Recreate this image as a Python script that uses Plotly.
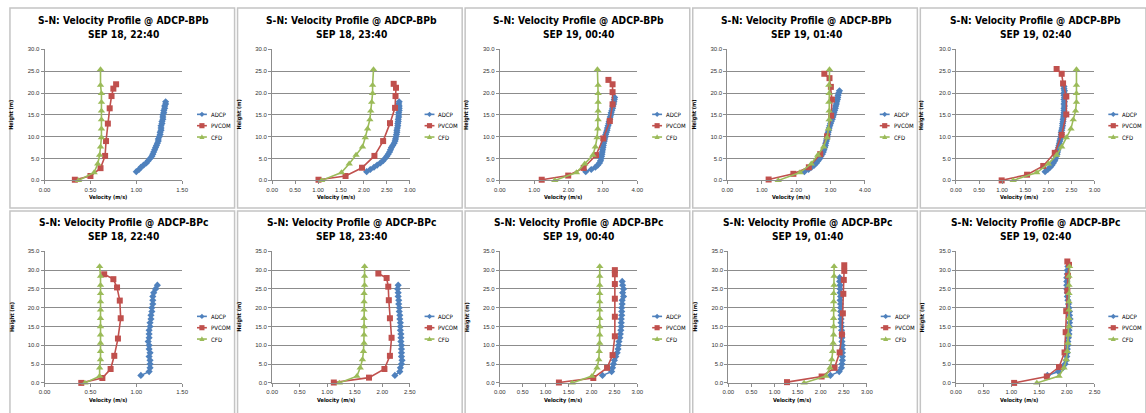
import plotly.graph_objects as go

W, H = 1146, 413

# ---------------------------------------------------------------- data
STATION_TITLES = ["S-N: Velocity Profile @ ADCP-BPb", "S-N: Velocity Profile @ ADCP-BPc"]
TIME_LABELS = ["SEP 18, 22:40", "SEP 18, 23:40", "SEP 19, 00:40", "SEP 19, 01:40", "SEP 19, 02:40"]
SERIES_NAMES = ["ADCP", "PVCOM", "CFD"]

# ADCP bin heights (m)
ADCP_Z_BPB = [2.0, 2.5, 3.0, 3.5, 4.0, 4.5, 5.0, 5.5, 6.0, 6.5, 7.0, 7.5, 8.0, 8.5,
              9.0, 9.5, 10.0, 10.5, 11.0, 11.5, 12.0, 12.5, 13.0, 13.5, 14.0, 14.5,
              15.0, 15.5, 16.0, 16.5, 17.0, 17.5, 18.0, 18.5, 19.0, 19.5, 20.0, 20.5,
              21.0, 21.5]
ADCP_Z_BPC = [2.0, 3.0, 4.0, 5.0, 6.0, 7.0, 8.0, 9.0, 10.0, 11.0, 12.0, 13.0, 14.0,
              15.0, 16.0, 17.0, 18.0, 19.0, 20.0, 21.0, 22.0, 23.0, 24.0, 25.0, 26.0,
              27.0, 28.0, 29.0, 30.0, 31.0]

# CFD layer heights (m)
CFD_Z_BPB = [0.0, 1.8, 3.8, 5.8, 7.7, 9.8, 11.8, 13.9, 15.9, 17.9, 19.9, 21.8, 25.4]
CFD_Z_BPC = [0.0, 1.8, 4.0, 6.2, 8.4, 10.6, 12.8, 15.0, 17.2, 19.4, 21.6, 23.8, 26.0, 28.4, 31.0]

# ---- ADCP-BPb
ADCP_V_BPB_1 = [1.00, 1.03, 1.05, 1.08, 1.11, 1.13, 1.15, 1.17, 1.18, 1.19, 1.20, 1.21, 1.22,
                1.23, 1.24, 1.24, 1.25, 1.26, 1.26, 1.27, 1.27, 1.27, 1.28, 1.28, 1.29, 1.29,
                1.29, 1.30, 1.30, 1.31, 1.31, 1.32, 1.32]
ADCP_V_BPB_2 = [2.06, 2.14, 2.22, 2.29, 2.36, 2.42, 2.46, 2.50, 2.53, 2.56, 2.58, 2.60, 2.63,
                2.66, 2.68, 2.69, 2.70, 2.71, 2.72, 2.72, 2.73, 2.74, 2.74, 2.75, 2.75, 2.76,
                2.76, 2.76, 2.77, 2.77, 2.77, 2.76, 2.77]
ADCP_V_BPB_3 = [2.50, 2.66, 2.78, 2.85, 2.90, 2.93, 2.95, 2.96, 2.97, 2.98, 2.99, 3.00, 3.01,
                3.02, 3.04, 3.05, 3.07, 3.08, 3.10, 3.12, 3.13, 3.15, 3.17, 3.18, 3.20, 3.21,
                3.23, 3.24, 3.26, 3.28, 3.29, 3.31, 3.32, 3.33, 3.34]
ADCP_V_BPB_4 = [2.24, 2.36, 2.45, 2.53, 2.59, 2.64, 2.69, 2.72, 2.76, 2.79, 2.81, 2.83, 2.85,
                2.86, 2.88, 2.89, 2.91, 2.92, 2.93, 2.95, 2.96, 2.98, 3.00, 3.02, 3.05, 3.07,
                3.09, 3.10, 3.12, 3.14, 3.15, 3.17, 3.18, 3.20, 3.21, 3.22, 3.24, 3.26]
ADCP_V_BPB_5 = [1.93, 1.99, 2.04, 2.08, 2.11, 2.14, 2.16, 2.17, 2.19, 2.20, 2.21, 2.22, 2.23,
                2.24, 2.25, 2.26, 2.27, 2.28, 2.28, 2.29, 2.30, 2.31, 2.31, 2.32, 2.32, 2.33,
                2.33, 2.34, 2.34, 2.34, 2.35, 2.34, 2.35, 2.34, 2.35, 2.34, 2.34, 2.35, 2.34,
                2.34]

PVCOM_Z_BPB_1 = [0.15, 1.0, 2.8, 5.6, 9.0, 13.0, 16.5, 19.3, 21.0, 22.0]
PVCOM_V_BPB_1 = [0.33, 0.50, 0.61, 0.66, 0.67, 0.69, 0.71, 0.73, 0.75, 0.78]
PVCOM_Z_BPB_2 = [0.15, 1.0, 2.9, 5.6, 9.0, 13.1, 16.6, 19.3, 21.2, 22.1]
PVCOM_V_BPB_2 = [1.01, 1.60, 1.96, 2.23, 2.42, 2.57, 2.68, 2.69, 2.70, 2.65]
PVCOM_Z_BPB_3 = [0.15, 1.1, 2.85, 5.8, 9.6, 13.6, 17.4, 20.2, 22.0, 23.0]
PVCOM_V_BPB_3 = [1.22, 1.99, 2.44, 2.80, 3.01, 3.20, 3.28, 3.28, 3.28, 3.16]
PVCOM_Z_BPB_4 = [0.2, 1.5, 3.0, 6.0, 10.1, 14.8, 18.5, 21.4, 23.4, 24.4]
PVCOM_V_BPB_4 = [1.20, 1.92, 2.37, 2.70, 2.90, 3.02, 3.04, 3.01, 2.97, 2.82]
PVCOM_Z_BPB_5 = [0.0, 1.3, 3.3, 6.3, 10.4, 15.1, 19.2, 22.2, 24.4, 25.5]
PVCOM_V_BPB_5 = [0.99, 1.54, 1.89, 2.14, 2.29, 2.39, 2.39, 2.32, 2.29, 2.18]

CFD_V_BPB_1 = [0.37, 0.54, 0.58, 0.60, 0.61, 0.62, 0.62, 0.62, 0.62, 0.62, 0.62, 0.61, 0.61]
CFD_V_BPB_2 = [1.08, 1.51, 1.68, 1.83, 1.97, 2.03, 2.08, 2.13, 2.15, 2.17, 2.19, 2.19, 2.21]
CFD_V_BPB_3 = [1.60, 2.23, 2.47, 2.71, 2.78, 2.83, 2.85, 2.86, 2.86, 2.86, 2.86, 2.86, 2.84]
CFD_V_BPB_4 = [1.48, 2.11, 2.44, 2.63, 2.80, 2.90, 2.94, 2.96, 2.96, 2.95, 2.96, 2.95, 2.97]
CFD_V_BPB_5 = [1.24, 1.75, 2.00, 2.18, 2.29, 2.39, 2.49, 2.54, 2.59, 2.61, 2.61, 2.61, 2.61]

# ---- ADCP-BPc
ADCP_V_BPC_1 = [1.05, 1.14, 1.15, 1.15, 1.15, 1.14, 1.15, 1.14, 1.14, 1.13, 1.14, 1.14, 1.14,
                1.15, 1.15, 1.16, 1.16, 1.17, 1.17, 1.18, 1.18, 1.18, 1.19, 1.21, 1.23]
ADCP_V_BPC_2 = [2.23, 2.32, 2.33, 2.35, 2.36, 2.35, 2.35, 2.35, 2.35, 2.34, 2.34, 2.34, 2.33,
                2.33, 2.33, 2.32, 2.32, 2.31, 2.31, 2.30, 2.30, 2.29, 2.29, 2.28, 2.29]
ADCP_V_BPC_3 = [2.24, 2.44, 2.46, 2.48, 2.50, 2.53, 2.56, 2.58, 2.59, 2.60, 2.62, 2.63, 2.64,
                2.65, 2.65, 2.65, 2.66, 2.66, 2.66, 2.67, 2.67, 2.70, 2.68, 2.70, 2.68, 2.67]
ADCP_V_BPC_4 = [2.21, 2.40, 2.45, 2.46, 2.47, 2.47, 2.47, 2.47, 2.47, 2.46, 2.46, 2.46, 2.45,
                2.45, 2.44, 2.44, 2.44, 2.43, 2.43, 2.43, 2.42, 2.43, 2.42, 2.42, 2.42, 2.41,
                2.41]
ADCP_V_BPC_5 = [1.65, 1.85, 1.93, 1.97, 1.99, 2.00, 2.01, 2.01, 2.02, 2.02, 2.03, 2.04, 2.04,
                2.05, 2.05, 2.06, 2.05, 2.05, 2.04, 2.03, 2.02, 2.01, 2.01, 2.00, 2.00, 2.00,
                2.00, 2.01, 2.01, 2.02]

PVCOM_Z_BPC_1 = [0.0, 1.3, 3.7, 7.2, 11.8, 17.2, 21.9, 25.4, 27.6, 28.9]
PVCOM_V_BPC_1 = [0.40, 0.63, 0.72, 0.76, 0.80, 0.83, 0.82, 0.79, 0.75, 0.65]
PVCOM_Z_BPC_2 = [0.1, 1.4, 3.7, 7.2, 12.0, 17.2, 22.0, 25.6, 27.9, 29.1]
PVCOM_V_BPC_2 = [1.12, 1.76, 2.04, 2.14, 2.17, 2.14, 2.12, 2.11, 2.08, 1.93]
PVCOM_Z_BPC_3 = [0.1, 1.3, 4.0, 7.4, 12.4, 17.6, 22.4, 26.3, 28.9, 30.0]
PVCOM_V_BPC_3 = [1.29, 2.04, 2.34, 2.46, 2.51, 2.51, 2.51, 2.51, 2.51, 2.51]
PVCOM_Z_BPC_4 = [0.2, 1.7, 4.0, 8.1, 12.9, 18.5, 23.7, 27.4, 29.8, 31.3]
PVCOM_V_BPC_4 = [1.27, 2.02, 2.30, 2.41, 2.46, 2.48, 2.49, 2.50, 2.51, 2.51]
PVCOM_Z_BPC_5 = [0.0, 1.7, 4.2, 8.1, 13.5, 19.1, 24.5, 28.5, 31.4, 32.3]
PVCOM_V_BPC_5 = [1.05, 1.64, 1.86, 1.96, 1.98, 1.99, 2.01, 2.02, 2.04, 2.01]

CFD_V_BPC_1 = [0.44, 0.60, 0.60, 0.61, 0.61, 0.61, 0.61, 0.61, 0.61, 0.61, 0.61, 0.61, 0.61, 0.61, 0.60]
CFD_V_BPC_2 = [1.22, 1.54, 1.60, 1.64, 1.66, 1.67, 1.67, 1.67, 1.67, 1.67, 1.67, 1.67, 1.68, 1.68, 1.68]
CFD_V_BPC_3 = [1.58, 2.01, 2.12, 2.16, 2.17, 2.18, 2.18, 2.18, 2.18, 2.18, 2.18, 2.18, 2.18, 2.18, 2.18]
CFD_V_BPC_4 = [1.64, 2.11, 2.20, 2.24, 2.26, 2.27, 2.28, 2.28, 2.28, 2.28, 2.28, 2.28, 2.29, 2.29, 2.29]
CFD_V_BPC_5 = [1.46, 1.86, 1.95, 1.99, 2.01, 2.02, 2.03, 2.04, 2.04, 2.04, 2.04, 2.04, 2.04, 2.04, 2.05]

# axis extents (max velocity, tick step) per panel, and height maximum per row
X_MAX = [1.5, 3.0, 4.0, 4.0, 3.0, 1.5, 2.5, 3.0, 3.0, 2.5]
X_STEP = [0.5, 0.5, 1.0, 1.0, 0.5, 0.5, 0.5, 0.5, 0.5, 0.5]
Y_MAX = [30, 35]

# ---------------------------------------------------------------- styling
COLORS = ["#4F81BD", "#C0504D", "#9BBB59"]
SYMBOLS = ["diamond", "square", "triangle-up"]
SIZES = [5.5, 6, 6.5]
GRID = "#8C8C8C"
FRAME = "#C4C4C4"
NARROW = "Liberation Sans Narrow, DejaVu Sans Condensed, Liberation Sans, sans-serif"
REG = "Liberation Sans, Arial, sans-serif"

# plot-area pixel boxes
PLOT_L = [39, 269, 499, 729, 960, 39, 269, 499, 730, 960]
PLOT_R = [178, 408, 638, 868, 1100, 178, 408, 638, 870, 1100]
ROW_T = [47, 252]
ROW_B = [180, 385.5]
FRAMES_X = [(4, 231), (234, 461), (464, 691), (694, 921), (924, 1152)]
FRAMES_Y = [(5, 208), (211, 420)]


def px(x):
    return x / W


def py(y):
    return 1 - y / H


panels = []
bpb = [(ADCP_V_BPB_1, PVCOM_Z_BPB_1, PVCOM_V_BPB_1, CFD_V_BPB_1),
       (ADCP_V_BPB_2, PVCOM_Z_BPB_2, PVCOM_V_BPB_2, CFD_V_BPB_2),
       (ADCP_V_BPB_3, PVCOM_Z_BPB_3, PVCOM_V_BPB_3, CFD_V_BPB_3),
       (ADCP_V_BPB_4, PVCOM_Z_BPB_4, PVCOM_V_BPB_4, CFD_V_BPB_4),
       (ADCP_V_BPB_5, PVCOM_Z_BPB_5, PVCOM_V_BPB_5, CFD_V_BPB_5)]
bpc = [(ADCP_V_BPC_1, PVCOM_Z_BPC_1, PVCOM_V_BPC_1, CFD_V_BPC_1),
       (ADCP_V_BPC_2, PVCOM_Z_BPC_2, PVCOM_V_BPC_2, CFD_V_BPC_2),
       (ADCP_V_BPC_3, PVCOM_Z_BPC_3, PVCOM_V_BPC_3, CFD_V_BPC_3),
       (ADCP_V_BPC_4, PVCOM_Z_BPC_4, PVCOM_V_BPC_4, CFD_V_BPC_4),
       (ADCP_V_BPC_5, PVCOM_Z_BPC_5, PVCOM_V_BPC_5, CFD_V_BPC_5)]
for row, (group, adcp_z, cfd_z) in enumerate([(bpb, ADCP_Z_BPB, CFD_Z_BPB),
                                               (bpc, ADCP_Z_BPC, CFD_Z_BPC)]):
    for col, (av, pz, pv, cv) in enumerate(group):
        panels.append(dict(
            row=row, col=col,
            title=STATION_TITLES[row], time=TIME_LABELS[col],
            series=[(av, adcp_z[:len(av)]), (pv, pz), (cv, cfd_z)],
        ))

fig = go.Figure()
shapes, annotations = [], []
layout = {}

for i, p in enumerate(panels):
    n = i + 1
    sfx = "" if n == 1 else str(n)
    row = p["row"]
    L, R, T, B = PLOT_L[i], PLOT_R[i], ROW_T[row], ROW_B[row]

    for k, (vals, zs) in enumerate(p["series"]):
        fig.add_trace(go.Scatter(
            x=vals, y=zs, mode="lines+markers", name=SERIES_NAMES[k],
            line=dict(color=COLORS[k], width=1.6),
            marker=dict(symbol=SYMBOLS[k], size=SIZES[k], color=COLORS[k],
                        line=dict(width=0)),
            xaxis="x" + sfx, yaxis="y" + sfx, showlegend=False, cliponaxis=False,
        ))

    layout["xaxis" + sfx] = dict(
        domain=[px(L), px(R)], anchor="y" + sfx, range=[0, X_MAX[i]],
        dtick=X_STEP[i], tick0=0, tickformat=".2f", showgrid=False, zeroline=False,
        showline=True, linecolor=GRID, linewidth=1, ticks="outside", ticklen=3,
        tickcolor=GRID, tickfont=dict(family=REG, size=6, color="#333333"),
        fixedrange=True,
    )
    layout["yaxis" + sfx] = dict(
        domain=[py(B), py(T)], anchor="x" + sfx, range=[0, Y_MAX[row]],
        dtick=5, tick0=0, tickformat=".1f", showgrid=True, gridcolor=GRID,
        gridwidth=1, zeroline=False, showline=True, linecolor=GRID, linewidth=1,
        ticks="outside", ticklen=3, tickcolor=GRID,
        tickfont=dict(family=REG, size=6, color="#333333"), fixedrange=True,
    )

    # chart title (two lines)
    tx = L + 80
    ty0 = 18 if row == 0 else 223
    for j, txt in enumerate([p["title"], p["time"]]):
        annotations.append(dict(
            x=px(tx), y=py(ty0 + 14 * j), xref="paper", yref="paper", text=f"<b>{txt}</b>",
            showarrow=False, xanchor="center", yanchor="middle",
            font=dict(family=NARROW, size=10.2, color="#000000"),
        ))

    # axis titles
    annotations.append(dict(
        x=px(L + 64), y=py(B + 17.5), xref="paper", yref="paper",
        text="<b>Velocity (m/s)</b>", showarrow=False, xanchor="center",
        yanchor="middle", font=dict(family=NARROW, size=5.5, color="#000000"),
    ))
    annotations.append(dict(
        x=px(FRAMES_X[p["col"]][0] + 2), y=py((T + B) / 2), xref="paper", yref="paper",
        text="<b>Height (m)</b>", showarrow=False, textangle=-90, xanchor="center",
        yanchor="middle", font=dict(family=NARROW, size=5.5, color="#000000"),
    ))

    # legend keys
    leg_y = [113, 124.5, 136] if row == 0 else [318, 329.5, 341]
    for k in range(3):
        yy = leg_y[k]
        x0, x1, xc = L + 154, L + 164, L + 159
        shapes.append(dict(type="line", xref="paper", yref="paper",
                           x0=px(x0), x1=px(x1), y0=py(yy), y1=py(yy),
                           line=dict(color=COLORS[k], width=1.6)))
        s = 2.6
        if k == 0:
            path = (f"M {px(xc - s)},{py(yy)} L {px(xc)},{py(yy - s)} "
                    f"L {px(xc + s)},{py(yy)} L {px(xc)},{py(yy + s)} Z")
        elif k == 1:
            path = (f"M {px(xc - s)},{py(yy - s)} L {px(xc + s)},{py(yy - s)} "
                    f"L {px(xc + s)},{py(yy + s)} L {px(xc - s)},{py(yy + s)} Z")
        else:
            path = (f"M {px(xc - s)},{py(yy + s * 0.8)} L {px(xc + s)},{py(yy + s * 0.8)} "
                    f"L {px(xc)},{py(yy - s * 1.1)} Z")
        shapes.append(dict(type="path", xref="paper", yref="paper", path=path,
                           fillcolor=COLORS[k], line=dict(width=0)))
        annotations.append(dict(
            x=px(L + 166), y=py(yy), xref="paper", yref="paper", text=SERIES_NAMES[k],
            showarrow=False, xanchor="left", yanchor="middle",
            font=dict(family=NARROW, size=6, color="#000000"),
        ))

# chart frames
for (fy0, fy1) in FRAMES_Y:
    for (fx0, fx1) in FRAMES_X:
        shapes.append(dict(type="rect", xref="paper", yref="paper",
                           x0=px(fx0), x1=px(fx1), y0=py(fy1), y1=py(fy0),
                           line=dict(color=FRAME, width=1.5), layer="below"))

fig.update_layout(
    width=W, height=H, margin=dict(l=0, r=0, t=0, b=0),
    paper_bgcolor="#FFFFFF", plot_bgcolor="#FFFFFF",
    shapes=shapes, annotations=annotations, showlegend=False,
    **layout,
)

fig.write_html("out.html", config={"displayModeBar": False})
